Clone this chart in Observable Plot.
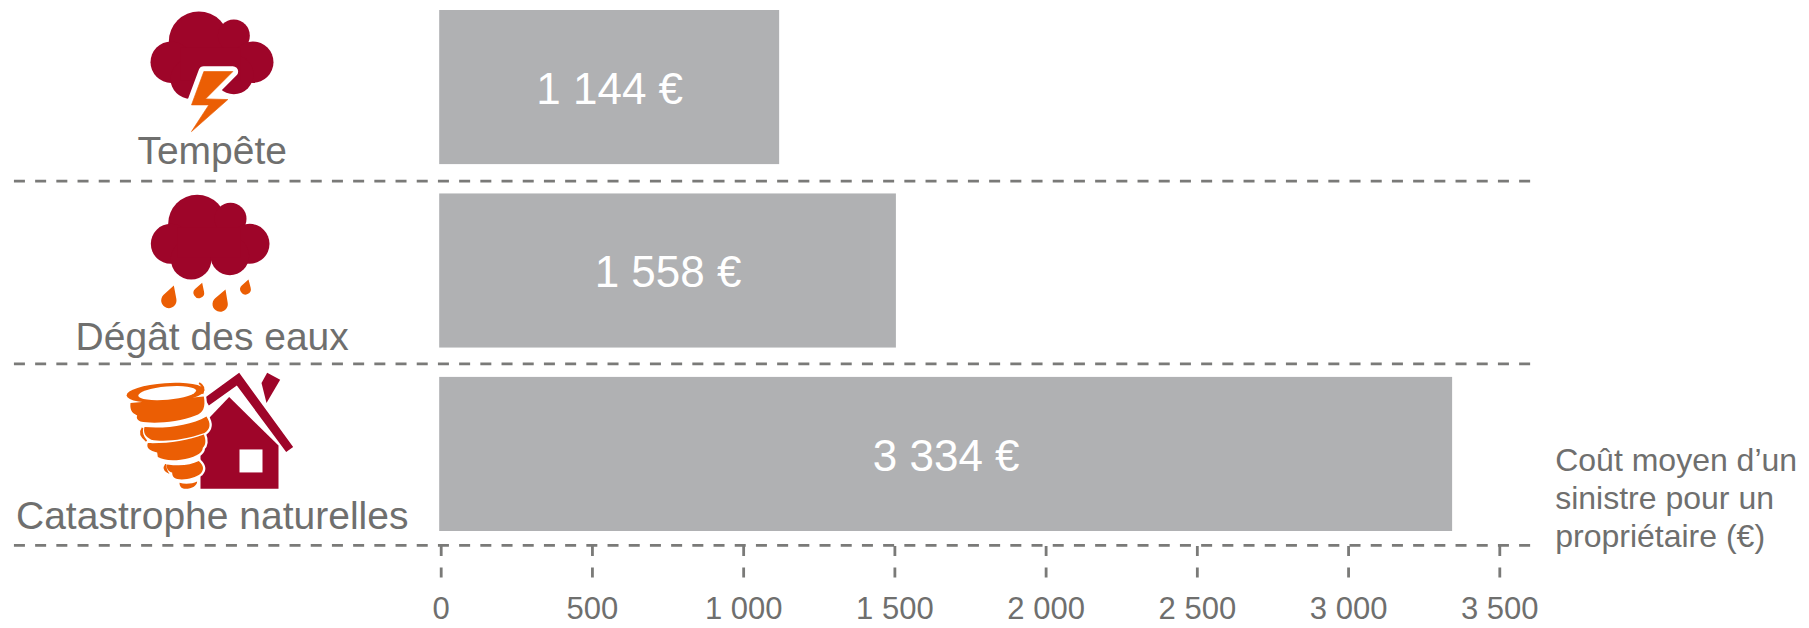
<!DOCTYPE html>
<html><head><meta charset="utf-8">
<script src="https://cdn.jsdelivr.net/npm/d3@7"></script>
<script src="https://cdn.jsdelivr.net/npm/@observablehq/plot@0.6"></script>
<style>html,body{margin:0;padding:0;background:#fff}svg{display:block}</style>
</head><body><div id="chart"></div>
<script>
// Data
const categories = ["Tempête", "Dégât des eaux", "Catastrophe naturelles"];
const barEnds = [1119, 1505, 3344];      // bar ends as read against the axis
const barStarts = [-5, -5, -5];
const barLabels = ["1 144 €", "1 558 €", "3 334 €"];
const tickValues = [0, 500, 1000, 1500, 2000, 2500, 3000, 3500];
const tickLabels = ["0", "500", "1 000", "1 500", "2 000", "2 500", "3 000", "3 500"];
const axisNote = "Coût moyen d’un\nsinistre pour un\npropriétaire (€)";

const table = categories.map((c, i) => ({cat: c, start: barStarts[i], end: barEnds[i], label: barLabels[i]}));

// Styles
const GREY = "#b0b1b3", TEXT = "#6f6f6e", DASH = "#7a7a78", RED = "#9e0529", ORANGE = "#eb5e04";
const FONT = "Liberation Sans, Arial, Helvetica, sans-serif";

// Icons
const circles = a => a.map(([x, y, r]) => `<circle cx="${x}" cy="${y}" r="${r}"/>`).join("");
const svgUri = (w, h, body) => "data:image/svg+xml;charset=utf-8," + encodeURIComponent(
  `<svg xmlns="http://www.w3.org/2000/svg" viewBox="0 0 ${w * 3} ${h * 3}" width="${w * 3}" height="${h * 3}">${body}</svg>`);
const boltPts = "610,213 697,213 615,295 682,297 573,393 625,313 573,313";
const iconStorm = svgUri(450, 200,
  `<g fill="${RED}">${circles([[595,123,90],[700,105,48],[512,185,62],[757,185,62],[570,235,60],[700,222,59]])}<rect x="540" y="140" width="180" height="100"/></g>
   <polygon points="${boltPts}" fill="${ORANGE}" stroke="#fff" stroke-width="32" stroke-linejoin="round"/>
   <polygon points="${boltPts}" fill="${ORANGE}" stroke="${ORANGE}" stroke-width="2" stroke-linejoin="round"/>`);
const drop = (tx, ty, cx, cy, r) => {
  const a = Math.atan2(ty - cy, tx - cx), t = Math.acos(r / Math.hypot(tx - cx, ty - cy));
  const p = s => [cx + r * Math.cos(a + s * t), cy + r * Math.sin(a + s * t)].join(" ");
  return `<path d="M${tx} ${ty}L${p(1)}A${r} ${r} 0 1 1 ${p(-1)}Z"/>`;
};
const iconRain = svgUri(450, 200,
  `<g fill="${RED}">${circles([[590,130,87],[690,115,48],[511,190,60],[747,190,60],[572,236,61],[688,226,58]])}<rect x="530" y="140" width="190" height="90"/></g>
   <g fill="${ORANGE}">${drop(520,315,505,360,23)}${drop(605,307,595,337,16)}${drop(675,327,659,371,23)}${drop(744,297,735,326,16)}</g>`);
const twister = `
  <ellipse cx="495" cy="97" rx="117" ry="29" transform="rotate(-4 495 97)"/>
  <path d="M390 128L610 108C616 140 608 158 585 165C530 188 450 190 420 183C408 178 408 170 410 165C392 158 388 145 390 128Z"/>
  <path d="M432 200C500 205 570 195 618 168C632 190 630 205 612 218C550 240 490 245 452 238C432 228 428 215 432 200Z"/>
  <path d="M442 248C500 250 560 240 610 222C618 240 615 255 607 262C606 280 580 292 540 298C510 302 485 298 472 290L470 276C448 272 436 262 442 248Z"/>
  <path d="M500 312C540 318 570 314 595 302C612 318 610 330 600 340C585 352 555 360 530 356C518 352 515 345 515 336C505 334 496 325 500 312Z"/>
  <path d="M537 367C555 372 575 370 590 363C590 375 575 385 555 385C545 385 537 380 537 367Z"/>`;
const iconHouse = svgUri(470, 268,
  `<g fill="${RED}">
     <polygon points="686,110 834,255 834,385 600,385 600,200"/>
     <polygon points="612,113 716,37 878,260 857,275 709,75 625,135"/>
     <polygon points="800,37 839,58 798,128 783,68"/>
   </g>
   <rect x="717" y="267" width="69" height="69" fill="#fff"/>
   <g fill="#fff" stroke="#fff" stroke-width="14" stroke-linejoin="round">${twister}</g>
   <g fill="${ORANGE}">${twister}
     <path d="M596 68Q616 78 606 100Q612 80 596 68Z" stroke="${ORANGE}" stroke-width="5"/>
     <path d="M426 203Q412 222 438 242Q420 222 426 203Z" stroke="${ORANGE}" stroke-width="5"/>
     <path d="M496 312Q486 326 500 334Q494 324 496 312Z" stroke="${ORANGE}" stroke-width="5"/>
   </g>
   <ellipse cx="500" cy="98" rx="87" ry="20" transform="rotate(-5 500 98)" fill="#fff"/>`);
const icons = [
  {src: iconStorm, w: 450, h: 200, dx: -215.7, dy: 13},
  {src: iconRain,  w: 450, h: 200, dx: -215.7, dy: 9.5},
  {src: iconHouse, w: 470, h: 268, dx: -205.7, dy: 40}
];

const labelDy = [76, 78.5, 74.3];
const ruleDy = [93.5, 92.8, 91];
const rowMarks = categories.flatMap((c, i) => [
  Plot.ruleY([c], {y: d => d, x1: () => -1411, x2: () => 3602, dy: ruleDy[i], stroke: DASH, strokeWidth: 2.8, strokeDasharray: "11 10.2"}),
  Plot.image([c], {src: () => icons[i].src, x: () => 0, y: d => d, width: icons[i].w, height: icons[i].h, dx: icons[i].dx, dy: icons[i].dy}),
  Plot.text([c], {x: () => 0, y: d => d, text: d => d, dx: -229, dy: labelDy[i], lineAnchor: "bottom", textAnchor: "middle", fill: TEXT, fontSize: 39, fontFamily: FONT})
]);

const chart = Plot.plot({
  width: 1809, height: 628,
  marginTop: 10, marginRight: 309.7, marginBottom: 82, marginLeft: 440.7,
  style: {background: "#fff", fontFamily: FONT, overflow: "visible"},
  x: {domain: [0, 3500], range: [440.7, 1499.3], label: null},
  y: {type: "band", domain: categories, range: [10, 531], paddingInner: 0.16, paddingOuter: 0, round: false, axis: null, label: null},
  marks: [
    Plot.barX(table, {y: "cat", x1: "start", x2: "end", fill: GREY}),
    Plot.text(table, {x: d => (d.start + d.end) / 2, y: "cat", text: "label", fill: "#fff", fontSize: 44, fontFamily: FONT, dy: 2}),
    ...rowMarks,
    Plot.axisX({ticks: tickValues, tickFormat: d => tickLabels[tickValues.indexOf(d)], tickSize: 33, tickPadding: 17, stroke: DASH, fill: TEXT, strokeWidth: 2.8, strokeDasharray: "10 11.6", fontSize: 31, fontFamily: FONT, label: null, anchor: "bottom"}),
    Plot.text([axisNote], {x: () => 3500, y: () => categories[2], text: d => d, dx: 55.4, dy: 42, lineAnchor: "middle", textAnchor: "start", lineHeight: 38 / 32, fill: TEXT, fontSize: 32, fontFamily: FONT})
  ]
});
document.getElementById("chart").appendChild(chart);
</script></body></html>
